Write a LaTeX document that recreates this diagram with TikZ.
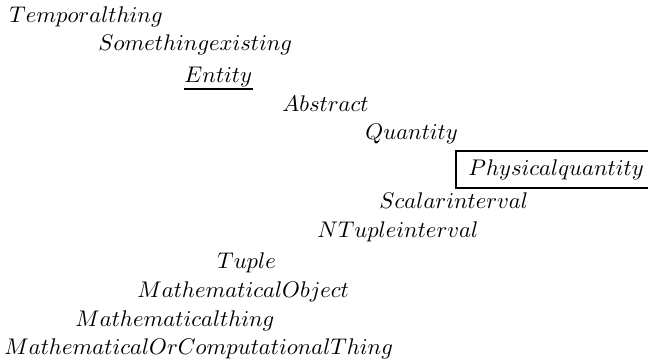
\documentclass[tikz,border=0pt]{standalone}
\usepackage{amsmath, amssymb}
\usepackage{tikz}
\usetikzlibrary{positioning}

\tikzset{
  term/.style={inner sep=0pt, anchor=base west},
}

\begin{document}
\begin{tikzpicture}[x=0.442pt, y=-0.442pt]
        \useasboundingbox (0,0) rectangle (648,363);
        % Hierarchie, von oben nach unten
        \node[term] (temporal) at (9,22) {$Temporalthing$};
        \node[term] (existing) at (98,50) {$Somethingexisting$};
        \node[term] (entity) at (184,82) {$Entity$};
        \draw[line width=0.9pt] ([yshift=-3.1pt]entity.base west) -- ([yshift=-3.1pt]entity.base east);
        \node[term] (abstract) at (282,111) {$Abstract$};
        \node[term] (quantity) at (365,139) {$Quantity$};
        % Physikalische Groesse, umrahmt
        \node[term] (physical) at (468,175) {$Physicalquantity$};
        \draw[line width=1pt] ([xshift=-5.2pt,yshift=3.4pt]physical.north west) rectangle ([xshift=3pt,yshift=-3.6pt]physical.south east);
        \node[term] (scalar) at (379,208) {$Scalarinterval$};
        \node[term] (ntuple) at (317,237) {$NTupleinterval$};
        \node[term] (tuple) at (217,268) {$Tuple$};
        \node[term] (mathobj) at (137,297) {$MathematicalObject$};
        \node[term] (maththing) at (75,326) {$Mathematicalthing$};
        \node[term] (mathcomp) at (4,354) {$MathematicalOrComputationalThing$};
\end{tikzpicture}
\end{document}
